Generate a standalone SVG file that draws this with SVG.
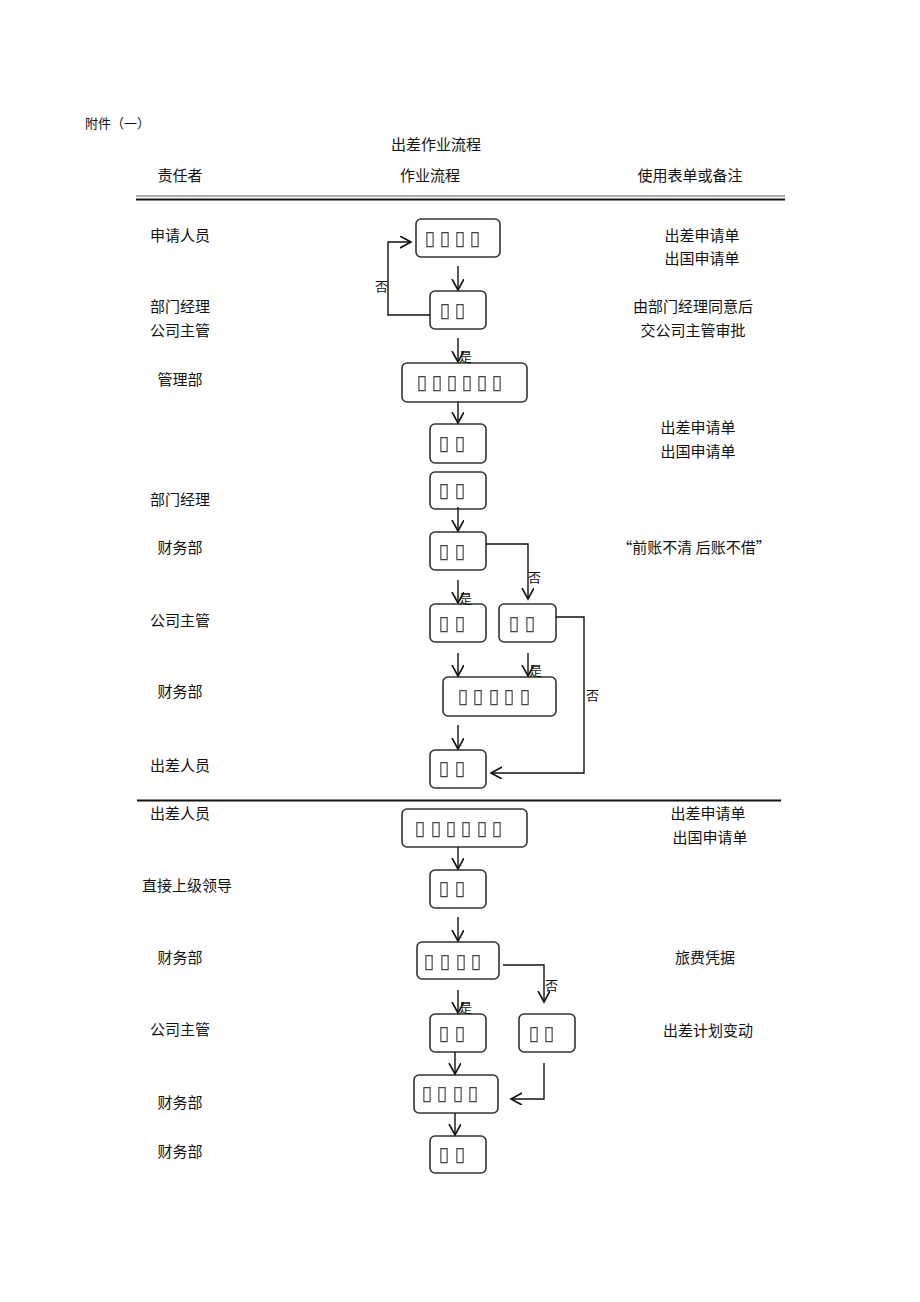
<svg xmlns="http://www.w3.org/2000/svg" width="920" height="1302" viewBox="0 0 920 1302">
<style>
.t{font-family:"Noto Sans CJK SC","Liberation Sans",sans-serif;font-size:15px;fill:#111;text-anchor:middle}
.s{font-family:"Noto Sans CJK SC","Liberation Sans",sans-serif;font-size:13px;fill:#111}
.b{fill:#fff;stroke:#333;stroke-width:1.6}
.q{font-family:"DejaVu Sans",sans-serif;font-size:20px;fill:#444;text-anchor:middle;filter:url(#g)}
.c{fill:none;stroke:#111;stroke-width:1.4}
</style>
<defs>
<filter id="g" x="-20%" y="-20%" width="140%" height="140%"><feOffset dx="0" dy="0"/></filter>
<marker id="ah" markerUnits="userSpaceOnUse" markerWidth="14" markerHeight="14" refX="11" refY="6" orient="auto">
<path d="M0,0 L11,6 L0,12" fill="none" stroke="#111" stroke-width="1.6"/>
</marker>
</defs>
<rect width="920" height="1302" fill="#fff"/>
<g id="header">
<text x="85" y="128" class="s">附件（一）</text>
<text x="436" y="150" class="t">出差作业流程</text>
<text x="180" y="181" class="t">责任者</text>
<text x="430" y="181" class="t">作业流程</text>
<text x="690" y="181" class="t">使用表单或备注</text>
<line x1="136" y1="196" x2="785" y2="196" stroke="#555" stroke-width="1"/>
<line x1="136" y1="199.5" x2="785" y2="199.5" stroke="#111" stroke-width="2"/>
<line x1="137" y1="800.5" x2="781" y2="800.5" stroke="#111" stroke-width="2"/>
</g>
<g id="left-labels">
<text x="180" y="241" class="t">申请人员</text>
<text x="180" y="312" class="t">部门经理</text>
<text x="180" y="336" class="t">公司主管</text>
<text x="180" y="385" class="t">管理部</text>
<text x="180" y="505" class="t">部门经理</text>
<text x="180" y="553" class="t">财务部</text>
<text x="180" y="626" class="t">公司主管</text>
<text x="180" y="697" class="t">财务部</text>
<text x="180" y="771" class="t">出差人员</text>
<text x="180" y="819" class="t">出差人员</text>
<text x="187" y="891" class="t">直接上级领导</text>
<text x="180" y="963" class="t">财务部</text>
<text x="180" y="1035" class="t">公司主管</text>
<text x="180" y="1108" class="t">财务部</text>
<text x="180" y="1157" class="t">财务部</text>
</g>
<g id="right-labels">
<text x="702" y="241" class="t">出差申请单</text>
<text x="702" y="264" class="t">出国申请单</text>
<text x="693" y="312" class="t">由部门经理同意后</text>
<text x="693" y="336" class="t">交公司主管审批</text>
<text x="698" y="433" class="t">出差申请单</text>
<text x="698" y="457" class="t">出国申请单</text>
<text x="694" y="553" class="t">“前账不清 后账不借”</text>
<text x="708" y="819" class="t">出差申请单</text>
<text x="710" y="843" class="t">出国申请单</text>
<text x="705" y="963" class="t">旅费凭据</text>
<text x="708" y="1036" class="t">出差计划变动</text>
</g>
<g id="n1"><rect class="b" x="416" y="219" width="84" height="38" rx="5"/><text class="q" x="430 445 460 475" y="245">▯▯▯▯</text></g>
<g id="n2"><rect class="b" x="430" y="291" width="56" height="38" rx="5"/><text class="q" x="445 460" y="317">▯▯</text></g>
<g id="n3"><rect class="b" x="402" y="363" width="125" height="39" rx="5"/><text class="q" x="422 437 452 467 482 497" y="389">▯▯▯▯▯▯</text></g>
<g id="n4"><rect class="b" x="430" y="424" width="56" height="39" rx="5"/><text class="q" x="444 460" y="450">▯▯</text></g>
<g id="n5"><rect class="b" x="430" y="472" width="56" height="37" rx="5"/><text class="q" x="444 460" y="497">▯▯</text></g>
<g id="n6"><rect class="b" x="430" y="532" width="56" height="38" rx="5"/><text class="q" x="444 460" y="558">▯▯</text></g>
<g id="n7"><rect class="b" x="430" y="604" width="56" height="38" rx="5"/><text class="q" x="444 460" y="630">▯▯</text></g>
<g id="n8"><rect class="b" x="499" y="604" width="57" height="38" rx="5"/><text class="q" x="514 530" y="630">▯▯</text></g>
<g id="n9"><rect class="b" x="443" y="677" width="113" height="39" rx="5"/><text class="q" x="463 478 494 509 525" y="703">▯▯▯▯▯</text></g>
<g id="n10"><rect class="b" x="430" y="750" width="56" height="38" rx="5"/><text class="q" x="444 460" y="775">▯▯</text></g>
<g id="n11"><rect class="b" x="402" y="809" width="125" height="38" rx="5"/><text class="q" x="420 436 451 466 482 497" y="835">▯▯▯▯▯▯</text></g>
<g id="n12"><rect class="b" x="430" y="870" width="56" height="38" rx="5"/><text class="q" x="444 460" y="895">▯▯</text></g>
<g id="n13"><rect class="b" x="417" y="942" width="82" height="37" rx="5"/><text class="q" x="429 445 461 476" y="968">▯▯▯▯</text></g>
<g id="n14"><rect class="b" x="430" y="1014" width="56" height="38" rx="5"/><text class="q" x="444 460" y="1040">▯▯</text></g>
<g id="n15"><rect class="b" x="519" y="1014" width="56" height="38" rx="5"/><text class="q" x="534 549" y="1040">▯▯</text></g>
<g id="n16"><rect class="b" x="414" y="1075" width="84" height="38" rx="5"/><text class="q" x="427 442 458 473" y="1100">▯▯▯▯</text></g>
<g id="n17"><rect class="b" x="430" y="1136" width="56" height="37" rx="5"/><text class="q" x="444 460" y="1161">▯▯</text></g>
<g id="connectors">
<line class="c" x1="458" y1="266" x2="458" y2="290" marker-end="url(#ah)"/>
<polyline class="c" points="430,315 388,315 388,242 411,242" marker-end="url(#ah)"/>
<text x="375" y="291" class="s">否</text>
<line class="c" x1="458" y1="338" x2="458" y2="362" marker-end="url(#ah)"/>
<text x="459" y="361" class="s">是</text>
<line class="c" x1="458" y1="402" x2="458" y2="423" marker-end="url(#ah)"/>
<line class="c" x1="458" y1="507" x2="458" y2="531" marker-end="url(#ah)"/>
<polyline class="c" points="486,544 528,544 528,599" marker-end="url(#ah)"/>
<text x="528" y="582" class="s">否</text>
<line class="c" x1="458" y1="580" x2="458" y2="603" marker-end="url(#ah)"/>
<text x="459" y="603" class="s">是</text>
<polyline class="c" points="556,617 584,617 584,773 491,773" marker-end="url(#ah)"/>
<text x="586" y="700" class="s">否</text>
<line class="c" x1="458" y1="653" x2="458" y2="676" marker-end="url(#ah)"/>
<line class="c" x1="528" y1="653" x2="528" y2="676" marker-end="url(#ah)"/>
<text x="529" y="675" class="s">是</text>
<line class="c" x1="458" y1="725" x2="458" y2="749" marker-end="url(#ah)"/>
<line class="c" x1="458" y1="847" x2="458" y2="869" marker-end="url(#ah)"/>
<line class="c" x1="458" y1="917" x2="458" y2="941" marker-end="url(#ah)"/>
<polyline class="c" points="503,965 544,965 544,1002" marker-end="url(#ah)"/>
<text x="545" y="990" class="s">否</text>
<line class="c" x1="458" y1="990" x2="458" y2="1013" marker-end="url(#ah)"/>
<text x="459" y="1012" class="s">是</text>
<line class="c" x1="455" y1="1052" x2="455" y2="1074" marker-end="url(#ah)"/>
<polyline class="c" points="544,1063 544,1099 511,1099" marker-end="url(#ah)"/>
<line class="c" x1="455" y1="1113" x2="455" y2="1135" marker-end="url(#ah)"/>
</g>
</svg>
